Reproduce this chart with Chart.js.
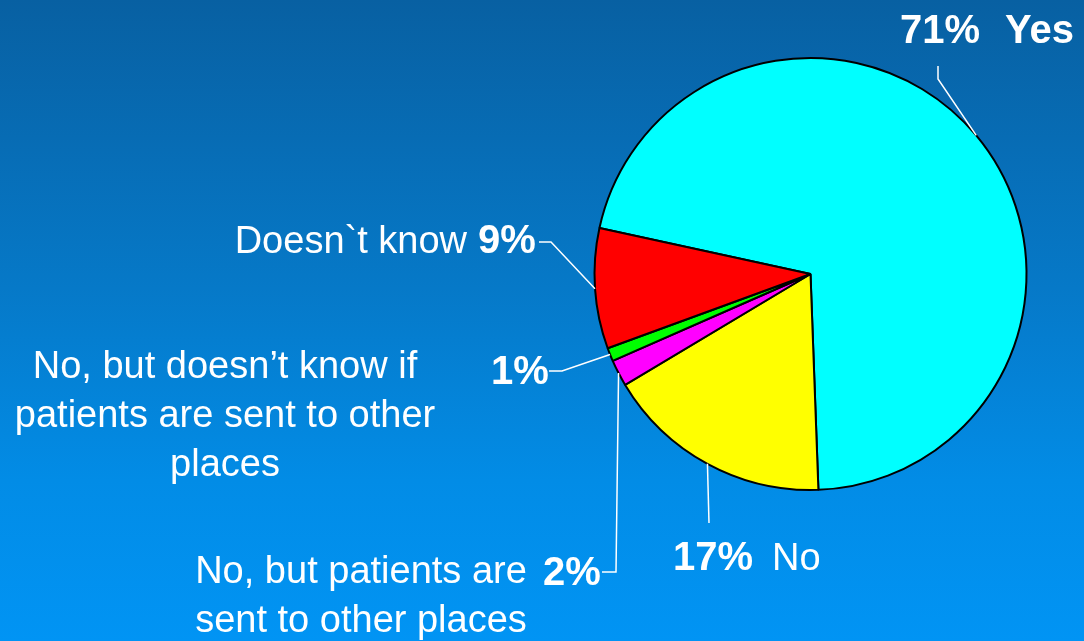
<!DOCTYPE html>
<html>
<head>
<meta charset="utf-8">
<script src="https://cdn.jsdelivr.net/npm/chart.js@4/dist/chart.umd.min.js"></script>
<style>
  html, body { margin: 0; padding: 0; }
  body {
    width: 1084px; height: 641px; overflow: hidden;
    background: linear-gradient(to bottom, #0860a2 0%, #0679c8 45%, #028ce6 75%, #0194f4 100%);
  }
  #wrap { position: relative; width: 1084px; height: 641px; }
</style>
</head>
<body>
<div id="wrap"><canvas id="pie" width="1084" height="641"></canvas></div>
<script>
// survey answers, clockwise from the red/cyan edge
var categories = ['Yes', 'No', 'No, but patients are sent to other places',
  'No, but doesn\u2019t know if patients are sent to other places', 'Doesn`t know'];
var shares = [71, 17, 2, 1, 9];
var colours = ['#00ffff', '#ffff00', '#ff00ff', '#00ff00', '#ff0000'];

// where each label sits and how its leader line bends (page pixels)
var labelSpots = [
  { bend: [[938, 79], [938, 66]], pct: [900, 43], lines: ['Yes'], at: [1005, 43], align: 'left', bold: true },
  { bend: [[709, 523]], pct: [673, 570], lines: ['No'], at: [772, 570], align: 'left' },
  { bend: [[616, 572], [602, 572]], pct: [543, 585], lines: ['No, but patients are', 'sent to other places'], at: [361, 583], align: 'center' },
  { bend: [[562, 371], [549, 371]], pct: [491, 384], lines: ['No, but doesn\u2019t know if', 'patients are sent to other', 'places'], at: [225, 378], align: 'center' },
  { bend: [[551, 242], [539, 242]], pct: [478, 253], lines: ['Doesn`t know'], at: [467, 253], align: 'right' }
];

var calloutPlugin = {
  id: 'callouts',
  afterDraw: function(chart) {
    var ctx = chart.ctx;
    var meta = chart.getDatasetMeta(0);
    ctx.save();
    meta.data.forEach(function(arc, i) {
      var p = arc.getProps(['x', 'y', 'startAngle', 'endAngle', 'outerRadius'], true);
      var mid = (p.startAngle + p.endAngle) / 2;
      var spot = labelSpots[i];
      ctx.strokeStyle = '#ffffff';
      ctx.lineWidth = 1.5;
      ctx.beginPath();
      ctx.moveTo(p.x + Math.cos(mid) * p.outerRadius, p.y + Math.sin(mid) * p.outerRadius);
      spot.bend.forEach(function(pt) { ctx.lineTo(pt[0], pt[1]); });
      ctx.stroke();

      ctx.fillStyle = '#ffffff';
      ctx.textBaseline = 'alphabetic';
      ctx.font = 'bold 40px "Liberation Sans", Arial, sans-serif';
      ctx.textAlign = 'left';
      ctx.fillText(shares[i] + '%', spot.pct[0], spot.pct[1]);

      ctx.font = (spot.bold ? 'bold 40px' : '38px') + ' "Liberation Sans", Arial, sans-serif';
      ctx.textAlign = spot.align;
      spot.lines.forEach(function(t, k) {
        ctx.fillText(t, spot.at[0], spot.at[1] + k * 49);
      });
    });
    ctx.restore();
  }
};

var ctx = document.getElementById('pie').getContext('2d');
var pie = new Chart(ctx, {
  type: 'pie',
  data: {
    labels: categories,
    datasets: [{
      data: shares,
      backgroundColor: colours,
      borderColor: '#000000',
      borderWidth: 2
    }]
  },
  options: {
    responsive: false,
    animation: false,
    rotation: -77.7,
    layout: { padding: { left: 593, right: 56, top: 57, bottom: 150 } },
    plugins: {
      legend: { display: false },
      tooltip: { enabled: false }
    }
  },
  plugins: [calloutPlugin]
});
</script>
</body>
</html>
